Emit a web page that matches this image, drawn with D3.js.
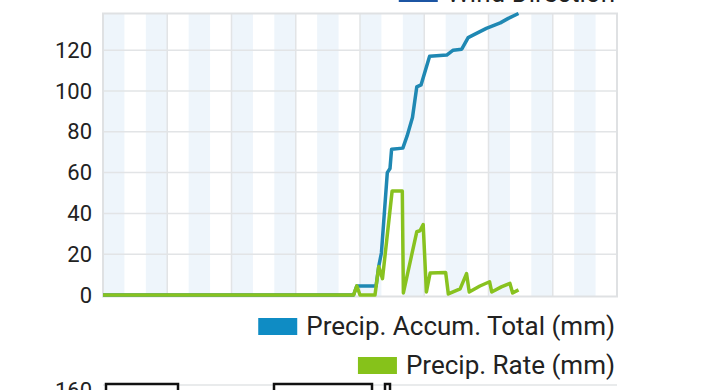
<!DOCTYPE html>
<html lang="en">
<head>
    <meta charset="UTF-8">
    <title>Precipitation</title>
    <script src="https://cdn.jsdelivr.net/npm/d3@7"></script>
    <style>
        html, body {
            margin: 0;
            height: 100%;
            background: #fff;
        }

        text {
            font-family: Roboto, "Noto Sans", sans-serif;
            fill: #222;
        }

        path.line {
            fill: none;
            stroke-width: 3.5px;
            stroke-linejoin: round;
        }
    </style>
</head>
<body>
<div class="chart"></div>

<script>
    // hours from start of the window
    var accumHours = [0, 23.4, 23.7, 24.0, 25.5, 25.75, 26.0, 26.55, 26.8, 26.95, 28.0, 28.4, 28.9, 29.3, 29.7, 30.5,
        32.1, 32.7, 33.5, 34.1, 34.6, 35.8, 37.1, 37.85, 38.8];
    var accumValues = [0, 0, 4.4, 4.4, 4.4, 14, 20.6, 60, 62, 71.5, 72, 78, 87, 102, 103, 117,
        117.6, 120, 120.5, 126.2, 127.5, 130.7, 133.4, 135.6, 138];

    var rateHours = [0, 23.4, 23.7, 24.0, 25.4, 25.75, 26.1, 27.0, 27.95, 28.05, 29.3, 29.6, 29.9, 30.2, 30.55, 32.0,
        32.25, 33.35, 33.95, 34.2, 35.2, 36.1, 36.3, 37.2, 38.0, 38.25, 38.8];
    var rateValues = [0, 0, 4.5, 0, 0, 14, 8, 51, 51, 1, 31, 31.5, 34.5, 1.5, 10.8, 11,
        0.5, 3, 10.5, 1.5, 4.4, 6.5, 1.5, 4, 5.7, 1, 2.5];

    var yTicks = [0, 20, 40, 60, 80, 100, 120];
    var seriesNames = ['Precip. Accum. Total (mm)', 'Precip. Rate (mm)'];

    var margin = {left: 103, right: 103, top: 13.5, bottom: 95};
    var width = 720 - margin.left - margin.right;   // 514
    var height = 295 - margin.top;

    var x = d3.scaleLinear().domain([0, 48]).range([0, width]);
    var y = d3.scaleLinear().domain([0, 138]).range([height, 0]);

    var svg = d3.select('body').append('svg').attr('width', 720).attr('height', 390);

    var chartGroup = svg.append('g')
        .attr('transform', 'translate(' + margin.left + ',' + margin.top + ')');

    // light bands every 4 hours
    var bands = d3.range(0, 48, 4);
    chartGroup.selectAll('rect.band')
        .data(bands)
        .enter().append('rect')
        .attr('class', 'band')
        .attr('x', function (d) { return x(d); })
        .attr('y', 0)
        .attr('width', x(2) - x(0))
        .attr('height', height + 1.5)
        .attr('fill', '#eef5fb');

    // grid
    chartGroup.selectAll('line.vgrid')
        .data(d3.range(6, 48, 6))
        .enter().append('line')
        .attr('x1', function (d) { return x(d); })
        .attr('x2', function (d) { return x(d); })
        .attr('y1', 0)
        .attr('y2', height + 1.5)
        .attr('stroke', '#e2e4e6')
        .attr('stroke-width', 1.5);

    chartGroup.selectAll('line.hgrid')
        .data(yTicks.slice(1))
        .enter().append('line')
        .attr('x1', 0)
        .attr('x2', width)
        .attr('y1', function (d) { return y(d); })
        .attr('y2', function (d) { return y(d); })
        .attr('stroke', '#e2e4e6')
        .attr('stroke-width', 1.5);

    chartGroup.append('rect')
        .attr('x', 0).attr('y', 0)
        .attr('width', width).attr('height', height + 1.5)
        .attr('fill', 'none')
        .attr('stroke', '#dfe1e3')
        .attr('stroke-width', 2);

    // y axis labels
    var yAxis = d3.axisLeft(y).tickValues(yTicks).tickSize(0).tickPadding(11);
    var yG = chartGroup.append('g').call(yAxis);
    yG.select('.domain').remove();
    yG.selectAll('text').attr('font-size', 22).attr('font-family', 'Roboto').attr('fill', '#1e1e1e');

    var accumData = accumHours.map(function (h, i) { return {h: h, v: accumValues[i]}; });
    var rateData = rateHours.map(function (h, i) { return {h: h, v: rateValues[i]}; });

    var line = d3.line()
        .x(function (d) { return x(d.h); })
        .y(function (d) { return y(d.v); });

    chartGroup.append('path').attr('class', 'line').attr('d', line(accumData)).attr('stroke', '#1f88b3');
    chartGroup.append('path').attr('class', 'line').attr('d', line(rateData)).attr('stroke', '#88c21f');

    // legends
    var legendRight = 615;
    var legend = [
        {name: 'Wind Direction', color: '#1c55a3', y: 2},
        {name: seriesNames[0], color: '#0f8cc4', y: 335},
        {name: seriesNames[1], color: '#86c21a', y: 374}
    ];
    legend.forEach(function (l) {
        var t = svg.append('text')
            .attr('x', legendRight)
            .attr('y', l.y)
            .attr('text-anchor', 'end')
            .attr('font-size', 26)
            .text(l.name);
        var w = t.node().getComputedTextLength();
        svg.append('rect')
            .attr('x', legendRight - w - 48)
            .attr('y', l.y - 17)
            .attr('width', 39)
            .attr('height', 17)
            .attr('fill', l.color);
    });

    // top of the next chart peeking in at the bottom
    svg.append('line').attr('x1', 103).attr('x2', 617).attr('y1', 385).attr('y2', 385)
        .attr('stroke', '#e2e4e6').attr('stroke-width', 1.5);
    [[106, 178], [274, 372], [385, 390]].forEach(function (b) {
        svg.append('rect')
            .attr('x', b[0]).attr('y', 384)
            .attr('width', b[1] - b[0]).attr('height', 12)
            .attr('fill', '#fff')
            .attr('stroke', '#111')
            .attr('stroke-width', 2.5);
    });
    svg.append('text').attr('x', 92).attr('y', 398).attr('text-anchor', 'end')
        .attr('font-size', 22).text('160');
</script>
</body>
</html>
